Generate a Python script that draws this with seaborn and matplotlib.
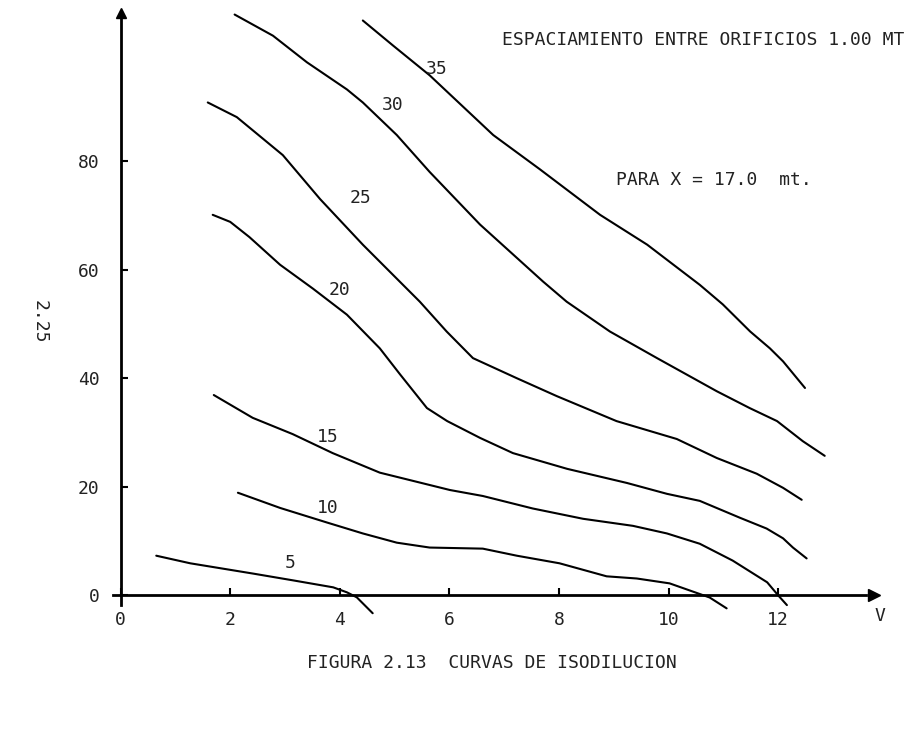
import numpy as np
import pandas as pd
import matplotlib
matplotlib.use("Agg")
import matplotlib.pyplot as plt
import seaborn as sns

# ---- data (V on x, concentration-axis on y) ----
c5_x = [0.65, 1.27, 2.42, 3.15, 3.88, 4.13, 4.31, 4.60]
c5_y = [7.3, 5.9, 4.0, 2.75, 1.47, 0.55, -0.37, -3.3]

c10_x = [2.14, 2.91, 3.77, 4.42, 5.04, 5.64, 6.61, 7.23, 8.01, 8.87, 9.42, 10.02, 10.75, 11.06]
c10_y = [18.9, 16.1, 13.4, 11.4, 9.7, 8.8, 8.6, 7.3, 5.9, 3.5, 3.1, 2.2, -0.4, -2.4]

c15_x = [1.70, 2.41, 3.14, 3.87, 4.73, 5.33, 6.01, 6.61, 7.52, 8.44, 9.35, 9.97, 10.57, 11.17, 11.80, 12.0, 12.16]
c15_y = [36.9, 32.7, 29.7, 26.2, 22.6, 21.1, 19.4, 18.3, 16.0, 14.1, 12.8, 11.4, 9.5, 6.4, 2.4, 0.0, -1.8]

c20_x = [1.68, 2.0, 2.35, 2.91, 3.51, 4.13, 4.73, 5.10, 5.59, 5.96, 6.56, 7.16, 8.15, 9.24, 9.97, 10.57, 11.30, 11.79, 12.09, 12.27, 12.52]
c20_y = [70.1, 68.8, 66.0, 60.9, 56.5, 51.7, 45.5, 40.7, 34.5, 32.1, 29.0, 26.2, 23.3, 20.7, 18.7, 17.4, 14.3, 12.3, 10.5, 8.8, 6.8]

c25_x = [1.59, 2.12, 2.96, 3.64, 4.42, 5.46, 5.95, 6.43, 7.23, 7.96, 9.05, 10.15, 10.88, 11.61, 12.09, 12.43]
c25_y = [90.8, 88.1, 81.1, 73.0, 64.6, 54.1, 48.6, 43.7, 40.0, 36.7, 32.1, 28.8, 25.3, 22.4, 19.8, 17.6]

c30_x = [2.08, 2.78, 3.40, 4.13, 4.42, 5.04, 5.64, 6.56, 7.71, 8.14, 8.93, 9.79, 10.88, 11.48, 11.98, 12.45, 12.85]
c30_y = [107.0, 103.1, 98.2, 93.2, 90.8, 84.8, 78.0, 68.3, 57.8, 54.1, 48.6, 43.7, 37.6, 34.5, 32.1, 28.4, 25.7]

c35_x = [4.42, 4.97, 5.64, 6.80, 7.65, 8.75, 9.61, 10.57, 10.99, 11.49, 11.85, 12.09, 12.49]
c35_y = [105.9, 101.3, 95.8, 84.8, 78.5, 70.1, 64.6, 57.2, 53.6, 48.6, 45.5, 43.1, 38.2]

curve_names = ["5", "10", "15", "20", "25", "30", "35"]
label_x = [3.09, 3.78, 3.78, 4.0, 4.37, 4.97, 5.76]
label_y = [5.9, 16.0, 29.2, 56.3, 73.2, 90.3, 96.9]

x_ticks = [0, 2, 4, 6, 8, 10, 12]
y_ticks = [0, 20, 40, 60, 80]

title_text = "ESPACIAMIENTO ENTRE ORIFICIOS 1.00 MT"
para_text = "PARA X = 17.0  mt."
caption_text = "FIGURA 2.13  CURVAS DE ISODILUCION"
page_text = "2.25"
x_axis_label = "V"

# ---- build long table ----
xs = [c5_x, c10_x, c15_x, c20_x, c25_x, c30_x, c35_x]
ys = [c5_y, c10_y, c15_y, c20_y, c25_y, c30_y, c35_y]
rows = []
for name, cx, cy in zip(curve_names, xs, ys):
    for i, (a, b) in enumerate(zip(cx, cy)):
        rows.append({"curve": name, "order": i, "V": a, "C": b})
df = pd.DataFrame(rows)

sns.set_style("white")
plt.rcParams["font.family"] = ["DejaVu Sans Mono", "DejaVu Sans"]

fig = plt.figure(figsize=(9.06, 7.35), dpi=100)
ax = fig.add_axes([0.1247, 0.1605, 0.9768 - 0.1247, 0.9913 - 0.1605])

sns.lineplot(data=df, x="V", y="C", units="curve", estimator=None, sort=False,
             color="black", linewidth=1.5, ax=ax, legend=False)

ax.set_xlim(-0.14, 13.95)
ax.set_ylim(-4.0, 108.5)

for s in ["top", "right"]:
    ax.spines[s].set_visible(False)
ax.spines["left"].set_position(("data", 0))
ax.spines["bottom"].set_position(("data", 0))
ax.spines["left"].set_bounds(-1.8, 107.5)
ax.spines["bottom"].set_bounds(-0.14, 13.6)
for s in ["left", "bottom"]:
    ax.spines[s].set_color("black")
    ax.spines[s].set_linewidth(2.0)

# arrowheads
ax.plot([0], [107.3], marker="^", color="black", markersize=7, clip_on=False)
ax.plot([13.75], [0], marker=">", color="black", markersize=9, clip_on=False)

ax.set_xticks(x_ticks)
ax.set_yticks(y_ticks)
ax.set_xticklabels([str(v) for v in x_ticks])
ax.set_yticklabels([str(v) for v in y_ticks])
ax.tick_params(axis="x", direction="in", length=5, width=1.5, pad=11,
               labelsize=13, colors="black", bottom=True)
ax.tick_params(axis="y", direction="in", length=5, width=1.5, pad=15,
               labelsize=13, colors="black", left=True)
for lab in ax.get_xticklabels() + ax.get_yticklabels():
    lab.set_color("#222222")
ax.set_xlabel("")
ax.set_ylabel("")

# curve labels
for n, lx, ly in zip(curve_names, label_x, label_y):
    ax.text(lx, ly, n, fontsize=13, ha="center", va="center", color="#222222")

ax.text(13.85, -3.8, x_axis_label, fontsize=13, ha="center", va="center", color="#222222",
        clip_on=False)

fig.text(0.7765, 0.9456, title_text, fontsize=13, ha="center", va="center", color="#222222")
fig.text(0.7880, 0.7551, para_text, fontsize=13, ha="center", va="center", color="#222222")
fig.text(0.5430, 0.0980, caption_text, fontsize=13, ha="center", va="center", color="#222222")
fig.text(0.0440, 0.5620, page_text, fontsize=13, ha="center", va="center", rotation=-90,
         color="#222222")

fig.savefig("out.png", dpi=100, facecolor="white")
